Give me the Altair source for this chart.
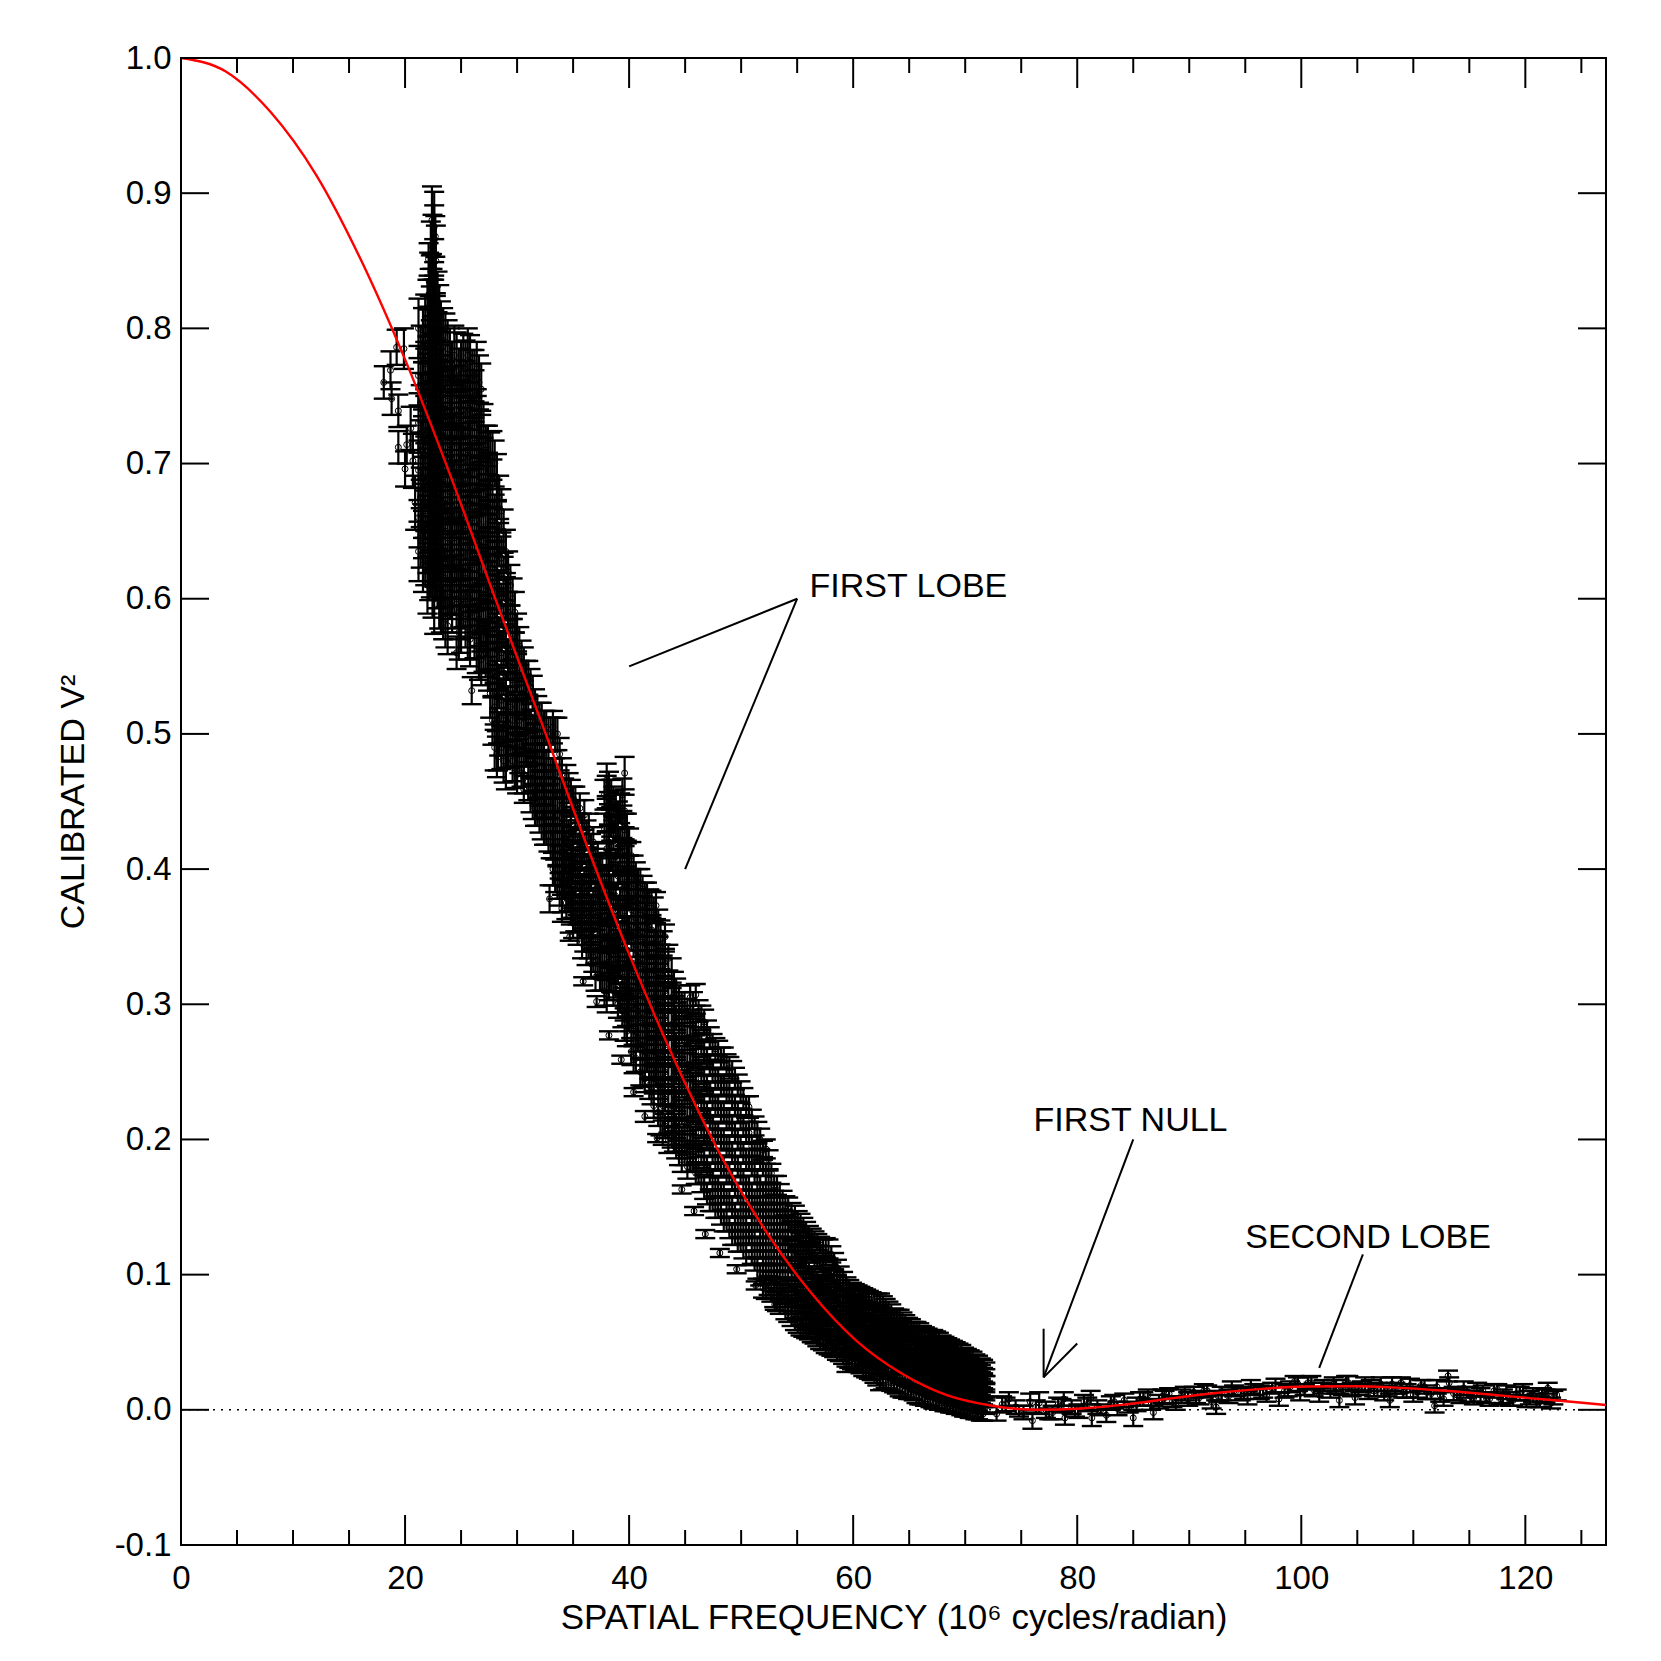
import altair as alt
import pandas as pd

W, H = 1425, 1487
FONT = "Liberation Sans"

# ---- model curve (red) : values ----
CURVE_X = [0, 4.0, 8.0, 12.1, 16.1, 20.1, 24.1, 28.1, 32.2, 36.2, 40.2, 44.2, 48.2, 52.3,
           56.3, 60.3, 64.3, 68.3, 72.4, 76.4, 80.4, 84.4, 88.4, 92.4, 96.5, 100.5, 104.5,
           108.5, 112.5, 116.6, 120.6, 124.6, 127.2]
CURVE_V2 = [1.0, 0.990, 0.960, 0.913, 0.850, 0.775, 0.690, 0.599, 0.508, 0.418, 0.333, 0.256,
            0.188, 0.131, 0.086, 0.051, 0.027, 0.011, 0.003, 0.000, 0.001, 0.004, 0.0085,
            0.0124, 0.0155, 0.0172, 0.0174, 0.0164, 0.0143, 0.0115, 0.0085, 0.0056, 0.0036]

# ---- sparse points at low frequency ----
LEFT_X = [18.1, 18.7, 18.8, 19.4, 19.25, 19.9, 19.4, 20.5, 20.0, 20.15, 20.7, 20.9,
          22.4, 22.7, 22.1, 22.2]
LEFT_V2 = [0.760, 0.769, 0.748, 0.739, 0.786, 0.785, 0.712, 0.726, 0.696, 0.714, 0.702, 0.671,
           0.880, 0.868, 0.851, 0.834]
LEFT_ERR = [0.012, 0.014, 0.012, 0.012, 0.013, 0.015, 0.012, 0.016, 0.013, 0.014, 0.02, 0.02,
            0.025, 0.015, 0.012, 0.01]

# ---- dense cluster, read as columns of points ----
CLUSTER_X = [21.2, 21.6, 22.0, 22.3, 22.6, 22.9, 23.2, 23.6, 24.0, 24.4, 24.8, 25.2, 25.6,
             26.0, 26.4, 26.8, 27.2, 27.6,
             28.0, 28.4, 28.8, 29.2, 29.6, 30.0, 30.4, 30.8, 31.2, 31.6, 32.0, 32.4, 32.8,
             33.2, 33.6]
CLUSTER_V2 = [
    [0.80, 0.765, 0.73, 0.695, 0.66, 0.635],
    [0.795, 0.755, 0.72, 0.685, 0.65, 0.625],
    [0.815, 0.78, 0.745, 0.71, 0.675, 0.64, 0.61],
    [0.855, 0.83, 0.80, 0.765, 0.73, 0.695, 0.66, 0.625],
    [0.875, 0.865, 0.84, 0.81, 0.775, 0.74, 0.705, 0.67, 0.635, 0.60],
    [0.82, 0.79, 0.755, 0.72, 0.685, 0.65, 0.615],
    [0.80, 0.77, 0.735, 0.70, 0.665, 0.63, 0.595],
    [0.79, 0.755, 0.72, 0.685, 0.65, 0.615, 0.585],
    [0.78, 0.745, 0.71, 0.675, 0.64, 0.605],
    [0.78, 0.75, 0.715, 0.68, 0.645, 0.61],
    [0.765, 0.73, 0.695, 0.66, 0.625, 0.59, 0.575],
    [0.775, 0.74, 0.705, 0.67, 0.635, 0.60],
    [0.78, 0.745, 0.71, 0.675, 0.64, 0.605, 0.575],
    [0.765, 0.73, 0.695, 0.66, 0.625, 0.59],
    [0.77, 0.735, 0.70, 0.665, 0.63, 0.595, 0.565],
    [0.755, 0.72, 0.685, 0.65, 0.615, 0.58, 0.555],
    [0.71, 0.68, 0.645, 0.61, 0.575, 0.56],
    [0.705, 0.67, 0.635, 0.60, 0.565, 0.53],
    [0.70, 0.66, 0.625, 0.59, 0.555, 0.52, 0.49],
    [0.675, 0.64, 0.605, 0.57, 0.535, 0.50],
    [0.65, 0.615, 0.58, 0.545, 0.51, 0.48],
    [0.62, 0.59, 0.555, 0.52, 0.49],
    [0.60, 0.57, 0.54, 0.51, 0.48],
    [0.575, 0.545, 0.515, 0.49, 0.47],
    [0.555, 0.53, 0.50, 0.475],
    [0.54, 0.515, 0.49],
    [0.535, 0.505, 0.48, 0.455],
    [0.52, 0.495, 0.47, 0.445],
    [0.51, 0.485, 0.46, 0.44],
    [0.505, 0.48, 0.455, 0.43],
    [0.50, 0.475, 0.45, 0.425],
    [0.505, 0.47, 0.445, 0.42, 0.40],
    [0.50, 0.465, 0.44, 0.415, 0.39],
]
CLUSTER_ERR = [0.022, 0.02, 0.021, 0.024, 0.026, 0.022, 0.02, 0.021, 0.02, 0.022, 0.02, 0.021,
               0.02, 0.019, 0.02, 0.019, 0.018, 0.018,
               0.017, 0.016, 0.016, 0.015, 0.015, 0.014, 0.014, 0.014, 0.013, 0.013, 0.013,
               0.012, 0.012, 0.012, 0.012]

CLUSTER2_X = [21.4, 21.8, 22.15, 22.45, 22.75, 23.05, 23.4, 23.8, 24.2, 24.6, 25.0, 25.4, 25.8,
              26.2, 26.6, 27.0, 27.4, 27.8, 28.2, 28.6, 29.0, 29.4, 29.8, 30.2, 30.6, 31.0,
              31.4, 31.8, 32.2, 32.6, 33.0, 33.4, 33.8]
CLUSTER2_V2 = [
    [0.78, 0.745, 0.71, 0.675, 0.645],
    [0.805, 0.77, 0.735, 0.70, 0.665, 0.63],
    [0.835, 0.795, 0.76, 0.725, 0.69, 0.655, 0.62],
    [0.86, 0.82, 0.785, 0.75, 0.715, 0.68, 0.645, 0.61],
    [0.85, 0.80, 0.765, 0.73, 0.695, 0.66, 0.625],
    [0.81, 0.775, 0.74, 0.705, 0.67, 0.635, 0.60],
    [0.795, 0.76, 0.725, 0.69, 0.655, 0.62, 0.59],
    [0.785, 0.75, 0.715, 0.68, 0.645, 0.61, 0.58],
    [0.77, 0.735, 0.70, 0.665, 0.63, 0.595],
    [0.775, 0.74, 0.705, 0.67, 0.635, 0.60],
    [0.77, 0.735, 0.70, 0.665, 0.63, 0.595, 0.58],
    [0.77, 0.755, 0.72, 0.685, 0.65, 0.615, 0.585],
    [0.775, 0.74, 0.705, 0.67, 0.635, 0.60, 0.57],
    [0.765, 0.75, 0.715, 0.68, 0.645, 0.61, 0.575],
    [0.76, 0.725, 0.69, 0.655, 0.62, 0.585, 0.56],
    [0.725, 0.70, 0.665, 0.63, 0.595, 0.565],
    [0.71, 0.69, 0.655, 0.62, 0.585, 0.55],
    [0.706, 0.685, 0.65, 0.615, 0.58, 0.545, 0.51],
    [0.69, 0.655, 0.62, 0.585, 0.55, 0.515, 0.485],
    [0.665, 0.63, 0.595, 0.56, 0.525, 0.49],
    [0.635, 0.60, 0.565, 0.53, 0.50, 0.475],
    [0.61, 0.58, 0.55, 0.52, 0.49],
    [0.59, 0.56, 0.53, 0.50, 0.475],
    [0.565, 0.54, 0.51, 0.485],
    [0.55, 0.525, 0.50, 0.47],
    [0.54, 0.515, 0.49, 0.465],
    [0.53, 0.50, 0.475, 0.45],
    [0.515, 0.49, 0.465, 0.445],
    [0.51, 0.485, 0.46, 0.435],
    [0.505, 0.475, 0.45, 0.43],
    [0.50, 0.47, 0.445, 0.42],
    [0.50, 0.47, 0.445, 0.42, 0.395],
    [0.485, 0.455, 0.43, 0.405, 0.385],
]

# ---- main descending band ----
BAND1_X = [34.0, 34.4, 34.8, 35.2, 35.6, 36.0, 36.4, 36.8, 37.2, 37.6, 38.0, 38.4, 38.8, 39.2,
           39.6, 40.0, 40.4, 40.8, 41.2, 41.6, 42.0, 42.4, 42.8, 43.2, 43.8, 44.2, 44.7]
BAND1_V2 = [
    [0.47, 0.445, 0.42, 0.40, 0.38],
    [0.465, 0.44, 0.415, 0.395, 0.375],
    [0.455, 0.435, 0.41, 0.39, 0.37],
    [0.45, 0.43, 0.405, 0.385, 0.365],
    [0.445, 0.42, 0.40, 0.38, 0.36],
    [0.44, 0.415, 0.39, 0.37, 0.35],
    [0.43, 0.405, 0.385, 0.365, 0.345],
    [0.42, 0.40, 0.375, 0.355, 0.335],
    [0.41, 0.39, 0.37, 0.35, 0.33],
    [0.40, 0.38, 0.36, 0.34, 0.32],
    [0.466, 0.457, 0.44, 0.415, 0.39, 0.37, 0.35, 0.33, 0.306],
    [0.455, 0.435, 0.41, 0.385, 0.36, 0.34, 0.32],
    [0.448, 0.43, 0.405, 0.38, 0.355, 0.335, 0.315],
    [0.445, 0.42, 0.40, 0.375, 0.35, 0.33, 0.305],
    [0.471, 0.443, 0.429, 0.41, 0.39, 0.365, 0.34, 0.32, 0.30, 0.285],
    [0.42, 0.40, 0.38, 0.355, 0.33, 0.31, 0.29],
    [0.40, 0.385, 0.365, 0.345, 0.32, 0.30, 0.28, 0.259],
    [0.39, 0.375, 0.355, 0.335, 0.315, 0.295, 0.275],
    [0.385, 0.37, 0.35, 0.33, 0.31, 0.29, 0.27, 0.249],
    [0.38, 0.36, 0.34, 0.32, 0.30, 0.28, 0.26],
    [0.375, 0.355, 0.335, 0.315, 0.295, 0.275, 0.255, 0.235],
    [0.373, 0.35, 0.33, 0.31, 0.29, 0.27, 0.25],
    [0.353, 0.335, 0.315, 0.295, 0.275, 0.255, 0.235, 0.212],
    [0.35, 0.33, 0.31, 0.29, 0.27, 0.25, 0.23, 0.21],
    [0.323, 0.305, 0.285, 0.265, 0.245, 0.225, 0.205],
    [0.31, 0.29, 0.27, 0.25, 0.23, 0.21, 0.195],
    [0.30, 0.28, 0.26, 0.24, 0.22, 0.20, 0.185],
]
BAND1_ERR = [0.012, 0.012, 0.011, 0.011, 0.011, 0.011, 0.011, 0.011, 0.010, 0.010, 0.012, 0.011,
             0.010, 0.011, 0.012, 0.010, 0.010, 0.010, 0.010, 0.010, 0.009, 0.010, 0.009, 0.009,
             0.011, 0.009, 0.009]

BAND1B_X = [34.2, 34.6, 35.0, 35.4, 35.8, 36.2, 36.6, 37.0, 37.4, 37.8, 38.2, 38.6, 39.0, 39.4,
            39.8, 40.2, 40.6, 41.0, 41.4, 41.8, 42.2, 42.6, 43.0, 43.5, 44.0, 44.45]
BAND1B_V2 = [
    [0.455, 0.43, 0.41, 0.39],
    [0.46, 0.425, 0.40, 0.38],
    [0.45, 0.42, 0.40, 0.375, 0.36],
    [0.44, 0.415, 0.395, 0.37, 0.355],
    [0.43, 0.41, 0.385, 0.365, 0.345],
    [0.425, 0.40, 0.38, 0.36, 0.34],
    [0.415, 0.395, 0.37, 0.35, 0.33],
    [0.405, 0.385, 0.365, 0.34, 0.32],
    [0.40, 0.38, 0.36, 0.34, 0.32],
    [0.455, 0.43, 0.39, 0.37, 0.35, 0.33, 0.31],
    [0.46, 0.445, 0.42, 0.40, 0.375, 0.355, 0.335, 0.315],
    [0.45, 0.425, 0.40, 0.375, 0.35, 0.33, 0.31],
    [0.44, 0.42, 0.395, 0.37, 0.345, 0.325, 0.30],
    [0.455, 0.435, 0.41, 0.385, 0.36, 0.34, 0.315, 0.295],
    [0.43, 0.41, 0.385, 0.36, 0.34, 0.315, 0.295, 0.28],
    [0.41, 0.39, 0.37, 0.35, 0.325, 0.305, 0.285, 0.265],
    [0.395, 0.38, 0.36, 0.34, 0.32, 0.30, 0.28, 0.26],
    [0.39, 0.37, 0.35, 0.33, 0.31, 0.29, 0.27, 0.25],
    [0.38, 0.365, 0.345, 0.325, 0.305, 0.285, 0.265, 0.245],
    [0.375, 0.355, 0.335, 0.315, 0.295, 0.275, 0.255, 0.24],
    [0.37, 0.345, 0.325, 0.305, 0.285, 0.265, 0.245, 0.225],
    [0.36, 0.34, 0.32, 0.30, 0.28, 0.26, 0.24, 0.22],
    [0.345, 0.325, 0.305, 0.285, 0.265, 0.245, 0.225, 0.205],
    [0.334, 0.315, 0.295, 0.275, 0.255, 0.235, 0.215, 0.20],
    [0.315, 0.295, 0.275, 0.255, 0.235, 0.215, 0.20],
    [0.305, 0.285, 0.265, 0.245, 0.225, 0.205, 0.19],
]
BAND1B_ERR = [0.012, 0.011, 0.011, 0.011, 0.011, 0.011, 0.011, 0.010, 0.010, 0.011, 0.012, 0.011,
              0.010, 0.012, 0.011, 0.010, 0.010, 0.010, 0.010, 0.010, 0.009, 0.010, 0.009,
              0.010, 0.009, 0.009]

BAND2_X = [45.2, 45.7, 46.2, 46.7, 47.2, 47.7, 48.2, 48.7, 49.2, 49.7, 50.2, 50.7, 51.2, 51.7,
           52.2, 52.7, 53.2, 53.7, 54.2, 54.8]
BAND2_V2 = [
    [0.295, 0.275, 0.255, 0.235, 0.215, 0.195, 0.18],
    [0.30, 0.28, 0.26, 0.24, 0.22, 0.20, 0.185],
    [0.295, 0.275, 0.255, 0.235, 0.215, 0.195, 0.175],
    [0.287, 0.265, 0.245, 0.225, 0.205, 0.185, 0.165],
    [0.275, 0.255, 0.235, 0.215, 0.195, 0.175, 0.155],
    [0.267, 0.245, 0.225, 0.205, 0.185, 0.165, 0.15],
    [0.26, 0.24, 0.22, 0.20, 0.18, 0.16, 0.145],
    [0.255, 0.235, 0.215, 0.195, 0.175, 0.155, 0.14],
    [0.25, 0.23, 0.21, 0.19, 0.17, 0.15, 0.13],
    [0.24, 0.22, 0.20, 0.18, 0.16, 0.14, 0.125],
    [0.23, 0.21, 0.19, 0.17, 0.15, 0.135, 0.12],
    [0.224, 0.205, 0.185, 0.165, 0.15, 0.13],
    [0.21, 0.19, 0.175, 0.155, 0.14, 0.125, 0.11],
    [0.20, 0.185, 0.165, 0.15, 0.135, 0.12, 0.10],
    [0.193, 0.175, 0.16, 0.145, 0.13, 0.115, 0.10, 0.089],
    [0.175, 0.16, 0.145, 0.13, 0.115, 0.10, 0.087],
    [0.166, 0.15, 0.135, 0.12, 0.105, 0.09, 0.08],
    [0.155, 0.14, 0.125, 0.11, 0.095, 0.085],
    [0.15, 0.135, 0.12, 0.105, 0.09, 0.08, 0.072],
    [0.144, 0.13, 0.115, 0.10, 0.088, 0.075, 0.066],
]
BAND2_ERR = [0.009, 0.009, 0.008, 0.009, 0.008, 0.008, 0.008, 0.008, 0.008, 0.008, 0.008, 0.008,
             0.007, 0.008, 0.007, 0.007, 0.007, 0.007, 0.007, 0.007]

BAND2B_X = [44.95, 45.45, 45.95, 46.45, 46.95, 47.45, 47.95, 48.45, 48.95, 49.45, 49.95, 50.45,
            50.95, 51.45, 51.95, 52.45, 52.95, 53.45, 53.95, 54.5]
BAND2B_V2 = [
    [0.30, 0.285, 0.265, 0.245, 0.225, 0.205, 0.19],
    [0.305, 0.285, 0.265, 0.245, 0.225, 0.205, 0.185],
    [0.307, 0.285, 0.265, 0.245, 0.225, 0.205, 0.185, 0.175],
    [0.29, 0.27, 0.25, 0.23, 0.21, 0.19, 0.17],
    [0.28, 0.26, 0.24, 0.22, 0.20, 0.18, 0.16],
    [0.27, 0.25, 0.23, 0.21, 0.19, 0.17, 0.155],
    [0.265, 0.245, 0.225, 0.205, 0.185, 0.165, 0.15],
    [0.26, 0.24, 0.22, 0.20, 0.18, 0.16, 0.14],
    [0.253, 0.235, 0.215, 0.195, 0.175, 0.155, 0.135],
    [0.245, 0.225, 0.205, 0.185, 0.165, 0.145, 0.13],
    [0.235, 0.215, 0.195, 0.175, 0.155, 0.14, 0.125],
    [0.224, 0.205, 0.185, 0.165, 0.145, 0.13, 0.115],
    [0.215, 0.195, 0.18, 0.16, 0.145, 0.13, 0.115],
    [0.205, 0.19, 0.17, 0.155, 0.14, 0.12, 0.105],
    [0.192, 0.18, 0.16, 0.145, 0.13, 0.115, 0.10, 0.09],
    [0.185, 0.17, 0.155, 0.14, 0.12, 0.105, 0.092],
    [0.166, 0.155, 0.14, 0.125, 0.11, 0.095, 0.083],
    [0.16, 0.145, 0.13, 0.115, 0.10, 0.088, 0.078],
    [0.151, 0.14, 0.125, 0.11, 0.095, 0.083, 0.074],
    [0.146, 0.133, 0.118, 0.103, 0.09, 0.078, 0.069],
]

BAND3_X = [55.3, 55.8, 56.3, 56.8, 57.3, 57.8, 58.3, 58.8, 59.4, 59.9, 60.4, 60.9, 61.4, 61.9,
           62.4, 62.9, 63.4, 63.9, 64.4, 64.9, 65.4, 65.9, 66.4, 66.9, 67.4, 67.9, 68.4, 68.9,
           69.4, 69.9, 70.4, 70.9, 71.4, 71.8]
BAND3_V2 = [
    [0.138, 0.125, 0.11, 0.095, 0.082, 0.07, 0.062],
    [0.132, 0.12, 0.105, 0.09, 0.078, 0.068, 0.06],
    [0.128, 0.115, 0.10, 0.087, 0.075, 0.065, 0.056],
    [0.124, 0.11, 0.096, 0.083, 0.072, 0.062, 0.053],
    [0.12, 0.105, 0.092, 0.08, 0.068, 0.058, 0.05],
    [0.119, 0.10, 0.088, 0.076, 0.065, 0.055, 0.048],
    [0.11, 0.097, 0.085, 0.073, 0.062, 0.052, 0.045],
    [0.10, 0.09, 0.08, 0.07, 0.06, 0.05, 0.042],
    [0.092, 0.083, 0.074, 0.065, 0.056, 0.047, 0.038, 0.034],
    [0.088, 0.08, 0.071, 0.062, 0.053, 0.045, 0.036],
    [0.086, 0.078, 0.069, 0.06, 0.051, 0.043, 0.034],
    [0.084, 0.075, 0.066, 0.057, 0.048, 0.04, 0.031],
    [0.082, 0.073, 0.064, 0.055, 0.046, 0.038, 0.029],
    [0.08, 0.071, 0.062, 0.053, 0.044, 0.036, 0.026],
    [0.08, 0.07, 0.06, 0.051, 0.042, 0.033, 0.0205],
    [0.076, 0.067, 0.058, 0.049, 0.04, 0.031, 0.022],
    [0.072, 0.064, 0.056, 0.047, 0.038, 0.029, 0.02],
    [0.069, 0.061, 0.053, 0.045, 0.036, 0.027, 0.017],
    [0.066, 0.058, 0.05, 0.042, 0.034, 0.025, 0.015],
    [0.063, 0.056, 0.048, 0.04, 0.032, 0.023, 0.013],
    [0.06, 0.053, 0.046, 0.038, 0.03, 0.021, 0.012],
    [0.058, 0.051, 0.044, 0.036, 0.028, 0.019, 0.01],
    [0.056, 0.049, 0.042, 0.034, 0.026, 0.017, 0.008],
    [0.054, 0.047, 0.04, 0.032, 0.024, 0.015, 0.007],
    [0.053, 0.045, 0.038, 0.03, 0.022, 0.013, 0.006],
    [0.05, 0.043, 0.036, 0.028, 0.02, 0.012, 0.005],
    [0.048, 0.041, 0.034, 0.026, 0.018, 0.01, 0.004],
    [0.046, 0.039, 0.032, 0.024, 0.016, 0.009, 0.003],
    [0.044, 0.037, 0.03, 0.022, 0.015, 0.008, 0.002],
    [0.041, 0.035, 0.028, 0.021, 0.014, 0.007, 0.0],
    [0.039, 0.033, 0.026, 0.019, 0.012, 0.005, -0.001],
    [0.036, 0.03, 0.024, 0.017, 0.011, 0.004, -0.002],
    [0.033, 0.028, 0.022, 0.016, 0.01, 0.003, -0.003],
    [0.03, 0.025, 0.02, 0.014, 0.008, 0.002],
]
BAND3_ERR = [0.007, 0.007, 0.006, 0.006, 0.006, 0.007, 0.006, 0.006, 0.006, 0.006,
             0.006, 0.006, 0.006, 0.006, 0.006, 0.006, 0.006, 0.005, 0.006, 0.005,
             0.005, 0.006, 0.005, 0.005, 0.005, 0.005, 0.005, 0.005, 0.005, 0.005,
             0.005, 0.005, 0.005, 0.005]

BAND3B_X = [55.05, 55.55, 56.05, 56.55, 57.05, 57.55, 58.05, 58.55, 59.1, 59.65, 60.15, 60.65,
            61.15, 61.65, 62.15, 62.65, 63.15, 63.65, 64.15, 64.65, 65.15, 65.65, 66.15, 66.65,
            67.15, 67.65, 68.15, 68.65, 69.15, 69.65, 70.15, 70.65, 71.15, 71.6]
BAND3B_V2 = [
    [0.14, 0.128, 0.113, 0.098, 0.085, 0.073, 0.064],
    [0.135, 0.122, 0.108, 0.093, 0.08, 0.069, 0.061],
    [0.13, 0.117, 0.103, 0.089, 0.077, 0.066, 0.058],
    [0.126, 0.112, 0.098, 0.085, 0.073, 0.063, 0.055],
    [0.122, 0.108, 0.094, 0.081, 0.07, 0.06, 0.051],
    [0.12, 0.103, 0.09, 0.078, 0.066, 0.056, 0.049],
    [0.115, 0.099, 0.087, 0.075, 0.064, 0.054, 0.046],
    [0.105, 0.094, 0.083, 0.071, 0.061, 0.051, 0.043],
    [0.096, 0.086, 0.077, 0.067, 0.058, 0.048, 0.04],
    [0.09, 0.082, 0.073, 0.064, 0.055, 0.046, 0.037],
    [0.087, 0.079, 0.07, 0.061, 0.052, 0.044, 0.035],
    [0.085, 0.077, 0.068, 0.059, 0.05, 0.042, 0.033],
    [0.083, 0.074, 0.065, 0.056, 0.047, 0.039, 0.03],
    [0.081, 0.072, 0.063, 0.054, 0.045, 0.037, 0.028],
    [0.08, 0.071, 0.061, 0.052, 0.043, 0.035, 0.024],
    [0.078, 0.069, 0.059, 0.05, 0.041, 0.032, 0.021],
    [0.074, 0.066, 0.057, 0.048, 0.039, 0.03, 0.021],
    [0.07, 0.062, 0.054, 0.046, 0.037, 0.028, 0.018],
    [0.068, 0.06, 0.052, 0.044, 0.035, 0.026, 0.016],
    [0.065, 0.057, 0.049, 0.041, 0.033, 0.024, 0.014],
    [0.062, 0.055, 0.047, 0.039, 0.031, 0.022, 0.013],
    [0.059, 0.052, 0.045, 0.037, 0.029, 0.02, 0.011],
    [0.057, 0.05, 0.043, 0.035, 0.027, 0.018, 0.009],
    [0.055, 0.048, 0.041, 0.033, 0.025, 0.016, 0.008],
    [0.054, 0.046, 0.039, 0.031, 0.023, 0.014, 0.006],
    [0.052, 0.044, 0.037, 0.029, 0.021, 0.013, 0.005],
    [0.049, 0.042, 0.035, 0.027, 0.019, 0.011, 0.004],
    [0.047, 0.04, 0.033, 0.025, 0.017, 0.01, 0.003],
    [0.045, 0.038, 0.031, 0.023, 0.016, 0.008, 0.002],
    [0.043, 0.036, 0.029, 0.022, 0.014, 0.007, 0.001],
    [0.04, 0.034, 0.027, 0.02, 0.013, 0.006, 0.0],
    [0.038, 0.031, 0.025, 0.018, 0.011, 0.005, -0.001],
    [0.035, 0.029, 0.023, 0.017, 0.01, 0.004, -0.002],
    [0.032, 0.026, 0.021, 0.015, 0.009, 0.003, -0.003],
]

# ---- isolated low points with small errors ----
OUT_X = [34.7, 35.9, 37.1, 38.2, 39.3, 40.4, 41.4, 42.5, 44.7, 45.8, 46.8, 48.1, 49.6, 51.3,
         53.0, 32.9, 34.0, 25.95, 24.6, 28.3, 30.6]
OUT_V2 = [0.350, 0.317, 0.302, 0.277, 0.259, 0.235, 0.217, 0.201, 0.163, 0.147, 0.130, 0.116,
          0.104, 0.092, 0.078, 0.378, 0.371, 0.532, 0.560, 0.483, 0.459]
OUT_ERR = [0.003, 0.003, 0.004, 0.003, 0.003, 0.003, 0.004, 0.003, 0.003, 0.003, 0.003, 0.003,
           0.003, 0.003, 0.004, 0.010, 0.010, 0.010, 0.012, 0.010, 0.010]

# ---- points beyond the first null ----
TAIL_X = [72.8, 73.3, 73.9, 74.5, 75.2, 75.8, 76.0, 76.6, 77.2, 77.8,
          78.3, 78.8, 78.9, 79.5, 80.1, 80.6, 81.2, 81.3, 81.8, 82.6,
          83.0, 83.6, 84.2, 85.0, 85.3, 85.9, 86.3, 86.8, 87.3, 87.8,
          88.2, 88.8, 89.3, 89.9, 90.4, 90.9, 91.6, 92.0, 92.4, 92.9,
          93.5, 94.0, 94.6, 95.2, 95.8, 96.3, 96.9, 97.4, 98.0, 98.5,
          99.0, 99.4, 99.9, 100.6, 101.1, 101.6, 102.0, 102.6, 103.1, 103.4,
          104.0, 104.5, 104.8, 105.4, 106.0, 106.2, 106.8, 107.4, 107.9, 108.4,
          108.9, 109.4, 110.0, 110.7, 111.2, 111.9, 112.4, 112.7, 113.1, 113.2,
          113.6, 114.2, 114.8, 115.4, 116.0, 116.2, 116.8, 117.5, 118.0, 118.6,
          119.2, 119.8, 120.4, 121.0, 121.5, 122.0, 122.5, 122.8]
TAIL_V2 = [-0.003, 0.004, 0.008, 0.002, -0.002, 0.006, -0.008, 0.005, 0.000, -0.002,
           0.004, 0.008, -0.006, 0.002, -0.001, 0.006, 0.009, -0.006, 0.002, -0.004,
           0.005, 0.001, 0.007, -0.006, 0.004, 0.008, 0.011, -0.002, 0.006, 0.009,
           0.012, 0.005, 0.010, 0.008, 0.013, 0.009, 0.014, 0.006, 0.002, 0.012,
           0.010, 0.014, 0.012, 0.009, 0.015, 0.013, 0.011, 0.016, 0.008, 0.014,
           0.017, 0.021, 0.012, 0.020, 0.015, 0.011, 0.018, 0.014, 0.017, 0.007,
           0.021, 0.015, 0.009, 0.017, 0.013, 0.018, 0.015, 0.012, 0.007, 0.016,
           0.020, 0.014, 0.011, 0.018, 0.013, 0.003, 0.011, 0.008, 0.025, 0.020,
           0.012, 0.010, 0.013, 0.009, 0.011, 0.014, 0.008, 0.015, 0.010, 0.008,
           0.012, 0.015, 0.009, 0.007, 0.011, 0.016, 0.009, 0.011]
TAIL_ERR = [0.005, 0.006, 0.005, 0.005, 0.005, 0.006, 0.006, 0.008, 0.006, 0.005,
            0.005, 0.005, 0.005, 0.005, 0.005, 0.005, 0.005, 0.006, 0.005, 0.005,
            0.005, 0.005, 0.005, 0.006, 0.005, 0.005, 0.004, 0.005, 0.005, 0.005,
            0.004, 0.005, 0.005, 0.005, 0.004, 0.005, 0.004, 0.005, 0.005, 0.005,
            0.005, 0.004, 0.005, 0.005, 0.004, 0.005, 0.005, 0.004, 0.005, 0.005,
            0.004, 0.004, 0.005, 0.004, 0.005, 0.005, 0.004, 0.005, 0.005, 0.005,
            0.004, 0.005, 0.005, 0.004, 0.005, 0.004, 0.005, 0.005, 0.005, 0.004,
            0.004, 0.005, 0.005, 0.004, 0.005, 0.005, 0.005, 0.005, 0.004, 0.004,
            0.005, 0.005, 0.004, 0.005, 0.005, 0.004, 0.005, 0.004, 0.005, 0.005,
            0.005, 0.004, 0.005, 0.005, 0.005, 0.004, 0.005, 0.004]

TAIL2_X = [73.6, 74.8, 76.3, 77.5, 78.6, 79.8, 80.9, 82.1, 83.3, 84.6,
           85.6, 86.6, 87.6, 88.5, 89.6, 90.6, 91.3, 92.6, 93.8, 94.9,
           95.5, 96.6, 97.7, 98.8, 99.7, 100.3, 100.9, 101.9, 102.9, 103.7,
           104.2, 105.1, 105.7, 106.5, 107.1, 107.7, 108.1, 109.1, 109.7, 110.4,
           111.0, 111.6, 112.1, 113.9, 114.5, 115.1, 115.7, 116.5, 117.2, 117.8,
           118.3, 118.9, 119.5, 120.1, 120.7, 121.3, 121.8, 122.3]
TAIL2_V2 = [0.004, -0.001, 0.002, -0.003, 0.003, -0.001, 0.004, 0.0, 0.006, 0.002,
            0.008, 0.004, 0.010, 0.006, 0.012, 0.009, 0.014, 0.010, 0.016, 0.012,
            0.017, 0.013, 0.018, 0.014, 0.019, 0.015, 0.020, 0.016, 0.019, 0.015,
            0.020, 0.015, 0.019, 0.014, 0.019, 0.014, 0.019, 0.013, 0.018, 0.013,
            0.017, 0.012, 0.017, 0.011, 0.016, 0.010, 0.015, 0.009, 0.014, 0.008,
            0.013, 0.007, 0.012, 0.006, 0.011, 0.006, 0.010, 0.005]
TAIL2_ERR = [0.005, 0.004, 0.005, 0.004, 0.005, 0.004, 0.005, 0.004, 0.005, 0.004,
             0.005, 0.004, 0.005, 0.004, 0.005, 0.004, 0.005, 0.004, 0.005, 0.004,
             0.005, 0.004, 0.005, 0.004, 0.005, 0.004, 0.005, 0.004, 0.005, 0.004,
             0.005, 0.004, 0.005, 0.004, 0.005, 0.004, 0.005, 0.004, 0.005, 0.004,
             0.005, 0.004, 0.005, 0.004, 0.005, 0.004, 0.005, 0.004, 0.005, 0.004,
             0.005, 0.004, 0.005, 0.004, 0.005, 0.004, 0.005, 0.004]

# ---- axes ticks ----
X_MAJOR = [0, 20, 40, 60, 80, 100, 120]
X_MINOR = [5, 10, 15, 25, 30, 35, 45, 50, 55, 65, 70, 75, 85, 90, 95, 105, 110, 115, 125]
Y_MAJOR = [-0.1, 0.0, 0.1, 0.2, 0.3, 0.4, 0.5, 0.6, 0.7, 0.8, 0.9, 1.0]

# ---- annotations ----
ANN_X1 = [40.0, 55.0, 85.0, 77.0, 77.0, 105.5]
ANN_Y1 = [0.550, 0.600, 0.200, 0.024, 0.024, 0.115]
ANN_X2 = [55.0, 45.0, 77.0, 77.0, 80.0, 101.6]
ANN_Y2 = [0.600, 0.400, 0.024, 0.060, 0.049, 0.031]
LABEL_X = [56.1, 76.1, 95.0]
LABEL_Y = [0.609, 0.214, 0.127]
LABEL_TEXT = ["FIRST LOBE", "FIRST NULL", "SECOND LOBE"]

# ---------------- build tables ----------------
rows = []


def add_points(xs, vs, es):
    for x, v, e in zip(xs, vs, es, strict=True):
        rows.append({"f": x, "v": v, "lo": v - e, "hi": v + e})


def add_columns(xs, cols, es):
    for x, col, e in zip(xs, cols, es, strict=True):
        for v in col:
            rows.append({"f": x, "v": v, "lo": v - e, "hi": v + e})


add_points(LEFT_X, LEFT_V2, LEFT_ERR)
add_columns(CLUSTER_X, CLUSTER_V2, CLUSTER_ERR)
add_columns(CLUSTER2_X, CLUSTER2_V2, CLUSTER_ERR)
add_columns(BAND1_X, BAND1_V2, BAND1_ERR)
add_columns(BAND1B_X, BAND1B_V2, BAND1B_ERR)
add_columns(BAND2_X, BAND2_V2, BAND2_ERR)
add_columns(BAND2B_X, BAND2B_V2, BAND2_ERR)
add_columns(BAND3_X, BAND3_V2, BAND3_ERR)
add_columns(BAND3B_X, BAND3B_V2, BAND3_ERR)
add_points(OUT_X, OUT_V2, OUT_ERR)
add_points(TAIL_X, TAIL_V2, TAIL_ERR)
add_points(TAIL2_X, TAIL2_V2, TAIL2_ERR)
pts = pd.DataFrame(rows)

curve = pd.DataFrame({"f": CURVE_X, "v": CURVE_V2})
ann = pd.DataFrame({"f": ANN_X1, "v": ANN_Y1, "f2": ANN_X2, "v2": ANN_Y2})
labels = pd.DataFrame({"f": LABEL_X, "v": LABEL_Y, "t": LABEL_TEXT})
zero = pd.DataFrame({"v": [0.0]})
xmaj = pd.DataFrame({"f": X_MAJOR})
xmin = pd.DataFrame({"f": X_MINOR})
ymaj = pd.DataFrame({"v": Y_MAJOR})

xscale = alt.Scale(domain=[0, 127.2], nice=False, zero=False)
yscale = alt.Scale(domain=[-0.1, 1.0], nice=False, zero=False)

xaxis = alt.Axis(values=X_MAJOR, format="d", title="SPATIAL FREQUENCY (10\u2076 cycles/radian)",
                 grid=False, ticks=False, domain=False, labelFont=FONT, labelFontSize=33,
                 labelColor="black", labelPadding=17, labelFlush=False, labelOverlap=False,
                 titleFont=FONT, titleFontSize=35, titleFontWeight="normal",
                 titleColor="black", titlePadding=5)
yaxis = alt.Axis(values=Y_MAJOR, title="CALIBRATED V\u00b2",
                 labelExpr="replace(format(datum.value, '.1f'), '\u2212', '-')",
                 grid=False, ticks=False, domain=False, labelFont=FONT, labelFontSize=33,
                 labelColor="black", labelPadding=10, labelFlush=False, labelOverlap=False,
                 titleFont=FONT, titleFontSize=34, titleFontWeight="normal",
                 titleColor="black", titlePadding=24)


def X(field):
    return alt.X(field, type="quantitative", scale=xscale, axis=xaxis)


def Y(field):
    return alt.Y(field, type="quantitative", scale=yscale, axis=yaxis)


zero_line = alt.Chart(zero).mark_rule(color="black", strokeWidth=1.6, strokeDash=[2, 6]).encode(
    y=Y("v"), x=alt.value(0), x2=alt.value(W))

err_bars = alt.Chart(pts).mark_rule(color="black", strokeWidth=2.2, clip=True).encode(
    x=X("f"), y=Y("lo"), y2="hi")
cap_lo = alt.Chart(pts).mark_tick(color="black", orient="horizontal", size=20, thickness=2.4,
                                  opacity=1, clip=True).encode(x=X("f"), y=Y("lo"))
cap_hi = alt.Chart(pts).mark_tick(color="black", orient="horizontal", size=20, thickness=2.4,
                                  opacity=1, clip=True).encode(x=X("f"), y=Y("hi"))
circles = alt.Chart(pts).mark_point(shape="circle", filled=False, size=36, color="black",
                                    strokeWidth=1, opacity=1, clip=True).encode(x=X("f"), y=Y("v"))

model = alt.Chart(curve).mark_line(color="#ff0000", strokeWidth=2.4, interpolate="monotone",
                                   clip=True).encode(x=X("f"), y=Y("v"))

ann_lines = alt.Chart(ann).mark_rule(color="black", strokeWidth=2).encode(
    x=X("f"), y=Y("v"), x2="f2", y2="v2")
ann_text = alt.Chart(labels).mark_text(align="left", baseline="middle", font=FONT, fontSize=34,
                                       color="black").encode(x=X("f"), y=Y("v"), text="t:N")

tick_style = dict(color="black", strokeWidth=2)
xt_bot_maj = alt.Chart(xmaj).mark_rule(**tick_style).encode(x=X("f"), y=alt.value(H), y2=alt.value(H - 30))
xt_bot_min = alt.Chart(xmin).mark_rule(**tick_style).encode(x=X("f"), y=alt.value(H), y2=alt.value(H - 15))
xt_top_maj = alt.Chart(xmaj).mark_rule(**tick_style).encode(x=X("f"), y=alt.value(0), y2=alt.value(30))
xt_top_min = alt.Chart(xmin).mark_rule(**tick_style).encode(x=X("f"), y=alt.value(0), y2=alt.value(15))
yt_left = alt.Chart(ymaj).mark_rule(**tick_style).encode(y=Y("v"), x=alt.value(0), x2=alt.value(28))
yt_right = alt.Chart(ymaj).mark_rule(**tick_style).encode(y=Y("v"), x=alt.value(W - 28), x2=alt.value(W))

chart = alt.layer(
    zero_line, err_bars, cap_lo, cap_hi, circles, model, ann_lines, ann_text,
    xt_bot_maj, xt_bot_min, xt_top_maj, xt_top_min, yt_left, yt_right,
).properties(
    width=W, height=H,
    autosize=alt.AutoSizeParams(type="none"),
    padding={"left": 173, "top": 50, "right": 47, "bottom": 108},
    background="white",
).configure_view(stroke="black", strokeWidth=2)

chart.save("out.html", embed_options={"renderer": "svg", "actions": False})
